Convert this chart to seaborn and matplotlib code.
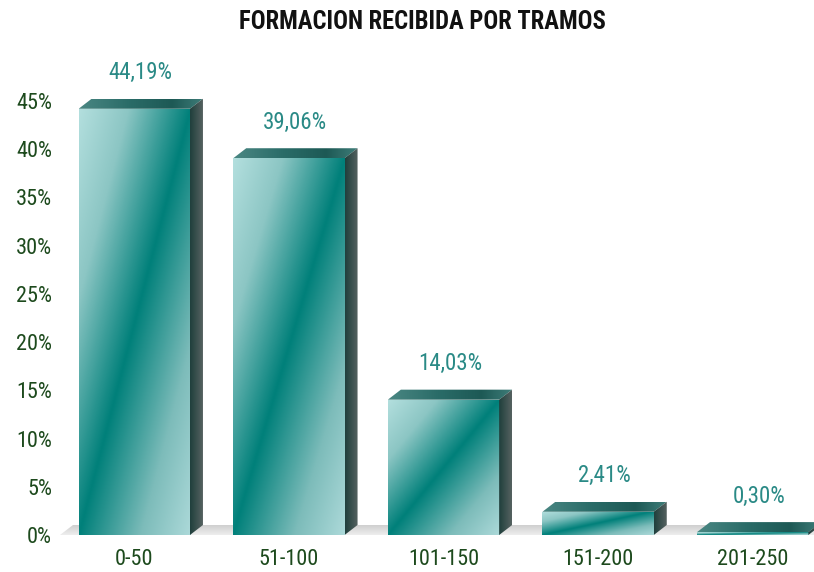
import numpy as np
import pandas as pd
import matplotlib
matplotlib.use("Agg")
import matplotlib.pyplot as plt
import seaborn as sns
from matplotlib.colors import LinearSegmentedColormap
from matplotlib.patches import Polygon
from matplotlib.ticker import FuncFormatter

categories = ["0-50", "51-100", "101-150", "151-200", "201-250"]
values = [44.19, 39.06, 14.03, 2.41, 0.30]
value_labels = ["44,19%", "39,06%", "14,03%", "2,41%", "0,30%"]
yticks = [0, 5, 10, 15, 20, 25, 30, 35, 40, 45]

sns.set_theme(style="white")
FONT = ["Roboto Condensed", "DejaVu Sans"]
plt.rcParams["font.family"] = FONT
plt.rcParams["font.stretch"] = "condensed"

W, H = 814, 572
fig = plt.figure(figsize=(W / 100, H / 100), dpi=100)
L, R, B, T = 57, 814, 572 - 535, 572 - 72
ax = fig.add_axes([L / W, B / H, (R - L) / W, (T - B) / H])

df = pd.DataFrame({"tramo": categories, "pct": values})
sns.barplot(data=df, x="tramo", y="pct", width=0.72, color="#008080", ax=ax,
            saturation=1, zorder=3)

xmin, xmax = -0.5, -0.5 + (R - L) / 154.6
ymin, ymax = 0, 48
ax.set_xlim(xmin, xmax)
ax.set_ylim(ymin, ymax)
for s in ax.spines.values():
    s.set_visible(False)
ax.set_xlabel("")
ax.set_ylabel("")
ax.set_yticks(yticks)
ax.yaxis.set_major_formatter(FuncFormatter(lambda v, p: f"{int(v)}%"))
ax.tick_params(axis="y", length=0, pad=3.5, labelsize=16, labelcolor="#1d4a1d")
ax.tick_params(axis="x", length=0, pad=10, labelsize=16, labelcolor="#1d4a1d")
ax.grid(False)

# pixel -> data conversions
px_x = (xmax - xmin) / (R - L)
px_y = (ymax - ymin) / (T - B)
dx = 13 * px_x
dy = 10 * px_y

front_cmap = LinearSegmentedColormap.from_list(
    "front", [(0.0, "#b3dfde"), (0.22, "#8cc6c4"), (0.5, "#00807a"),
              (0.78, "#7dbcba"), (1.0, "#acd9d9")])
top_cmap = LinearSegmentedColormap.from_list(
    "top", [(0.0, "#4a8783"), (0.4, "#2a6c68"), (0.75, "#1d5955"), (1.0, "#3f7d79")])
side_cmap = LinearSegmentedColormap.from_list(
    "side", [(0.0, "#1f3f3c"), (1.0, "#566261")])
floor_cmap = LinearSegmentedColormap.from_list(
    "floor", [(0.0, "#eeeeee"), (1.0, "#cfcfcf")])

# floor band
floor_poly = Polygon([(xmin + 0.02, 0), (xmax, 0), (xmax, dy), (xmin + 0.02 + dx, dy)],
                     closed=True, facecolor="none", edgecolor="none", zorder=1)
ax.add_patch(floor_poly)
grad_v = np.linspace(0, 1, 50).reshape(-1, 1)
im = ax.imshow(grad_v, cmap=floor_cmap, extent=[xmin, xmax, 0, dy], origin="lower",
               aspect="auto", zorder=1, interpolation="bilinear")
im.set_clip_path(floor_poly)

uu, vv = np.meshgrid(np.linspace(0, 1, 200), np.linspace(0, 1, 200))
tgrid = (uu - vv + 1) / 2
hgrid = np.linspace(0, 1, 200).reshape(1, -1)

for bar in list(ax.patches):
    if not hasattr(bar, "get_height"):
        continue
    x0 = bar.get_x()
    w = bar.get_width()
    h = bar.get_height()
    x1 = x0 + w
    bar.set_facecolor("none")
    bar.set_edgecolor("none")
    imf = ax.imshow(tgrid, cmap=front_cmap, extent=[x0, x1, 0, h], origin="lower",
                    aspect="auto", zorder=4, interpolation="bilinear")
    imf.set_clip_path(bar)
    top = Polygon([(x0, h), (x1, h), (x1 + dx, h + dy), (x0 + dx, h + dy)], closed=True,
                  facecolor="none", edgecolor="none", zorder=4)
    ax.add_patch(top)
    imt = ax.imshow(hgrid, cmap=top_cmap, extent=[x0, x1 + dx, h, h + dy], origin="lower",
                    aspect="auto", zorder=4, interpolation="bilinear")
    imt.set_clip_path(top)
    side = Polygon([(x1, 0), (x1 + dx, dy), (x1 + dx, h + dy), (x1, h)], closed=True,
                   facecolor="none", edgecolor="none", zorder=4)
    ax.add_patch(side)
    ims = ax.imshow(hgrid, cmap=side_cmap, extent=[x1, x1 + dx, 0, h + dy], origin="lower",
                    aspect="auto", zorder=4, interpolation="bilinear")
    ims.set_clip_path(side)

for i, (v, lab) in enumerate(zip(values, value_labels)):
    ax.annotate(lab, xy=(i + dx / 2, v), xytext=(0, 26), textcoords="offset points",
                ha="center", va="center", fontsize=16.5, color="#2a8a86", zorder=6)

ax.set_xlim(xmin, xmax)
ax.set_ylim(ymin, ymax)

fig.text(422 / W, 1 - 22 / H, "FORMACION RECIBIDA POR TRAMOS", ha="center", va="center",
         fontsize=17.7, fontweight="bold", color="#111111")

fig.savefig("out.png", dpi=100)
